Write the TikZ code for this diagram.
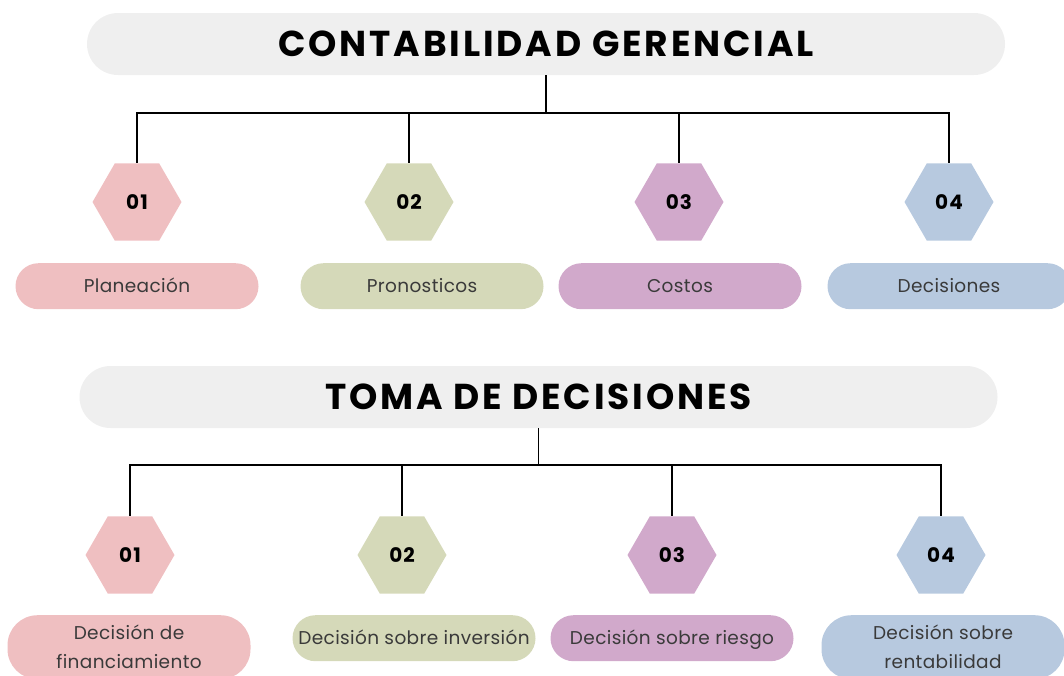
\documentclass[tikz,border=0pt]{standalone}
\usepackage{fontspec}
\setmainfont{Poppins}
\newfontfamily\titlefont[LetterSpace=8]{Poppins}
\newfontfamily\numfont[LetterSpace=5]{Poppins}
\newfontfamily\labelfont[LetterSpace=2]{Poppins}
\usetikzlibrary{shapes.geometric}
\definecolor{titlegray}{HTML}{EFEFEF}
\definecolor{rosa}{HTML}{EFBFC1}
\definecolor{salvia}{HTML}{D5D9B9}
\definecolor{lila}{HTML}{D1A9CB}
\definecolor{celeste}{HTML}{B7C9DF}
\definecolor{texto}{HTML}{3A3A3A}
\tikzset{
	titlebar/.style={fill=titlegray,rounded corners=31pt,minimum width=918pt,minimum height=62pt,
		font=\titlefont\fontsize{36}{42}\selectfont\bfseries,inner sep=0pt,
		text height=25pt,text depth=0pt},
	hexa/.style={regular polygon,regular polygon sides=6,minimum size=89pt,inner sep=0pt,
		font=\numfont\fontsize{20}{24}\selectfont\bfseries,text height=14pt,text depth=0pt},
	pillbase/.style={rounded corners=23pt,minimum width=243pt,inner sep=0pt,
		anchor=north,text=texto,align=center,font=\labelfont\fontsize{18.5}{29}\selectfont},
	pill/.style={pillbase,minimum height=46pt,text height=13pt,text depth=0pt},
	tallpill/.style={pillbase,rounded corners=30pt,minimum height=64pt},
	link/.style={line width=1.6pt}
}
\begin{document}
\begin{tikzpicture}[x=1pt,y=-1pt]
	% page size
	\useasboundingbox (0,0) rectangle (1064,675);
	\clip (0,0) rectangle (1064,675);
	% first title
	\node[titlebar] (cg) at (546,44) {CONTABILIDAD GERENCIAL};
	\coordinate (cgjoin) at (546,113);
	% hexagons under the first title
	\node[hexa,fill=rosa] (cgh1) at (137,202) {01};
	\node[hexa,fill=salvia] (cgh2) at (409,202) {02};
	\node[hexa,fill=lila] (cgh3) at (679,202) {03};
	\node[hexa,fill=celeste] (cgh4) at (949,202) {04};
	% labels under the first title
	\node[pill,fill=rosa] (cgp1) at (137,263) {Planeación};
	\node[pill,fill=salvia] (cgp2) at (422,263) {Pronosticos};
	\node[pill,fill=lila] (cgp3) at (680,263) {Costos};
	\node[pill,fill=celeste] (cgp4) at (949,263) {Decisiones};
	% tree of the first title
	\draw[link] (cg.south) -- (cgjoin);
	\draw[link] (cgjoin) -| (cgh1.north);
	\draw[link] (cgjoin) -| (cgh2.north);
	\draw[link] (cgjoin) -| (cgh3.north);
	\draw[link] (cgjoin) -| (cgh4.north);
	% second title
	\node[titlebar] (td) at (538.5,397) {TOMA DE DECISIONES};
	\coordinate (tdjoin) at (538.5,465);
	% hexagons under the second title
	\node[hexa,fill=rosa] (tdh1) at (130,555) {01};
	\node[hexa,fill=salvia] (tdh2) at (402,555) {02};
	\node[hexa,fill=lila] (tdh3) at (672,555) {03};
	\node[hexa,fill=celeste] (tdh4) at (941,555) {04};
	% labels under the second title
	\node[tallpill,fill=rosa] (tdp1) at (129,615) {Decisión de\\financiamiento};
	\node[pill,fill=salvia] (tdp2) at (414,615) {Decisión sobre inversión};
	\node[pill,fill=lila] (tdp3) at (672,615) {Decisión sobre riesgo};
	\node[tallpill,fill=celeste] (tdp4) at (943,615) {Decisión sobre\\rentabilidad};
	% tree of the second title
	\draw[link] (td.south) -- (tdjoin);
	\draw[link] (tdjoin) -| (tdh1.north);
	\draw[link] (tdjoin) -| (tdh2.north);
	\draw[link] (tdjoin) -| (tdh3.north);
	\draw[link] (tdjoin) -| (tdh4.north);
\end{tikzpicture}
\end{document}
